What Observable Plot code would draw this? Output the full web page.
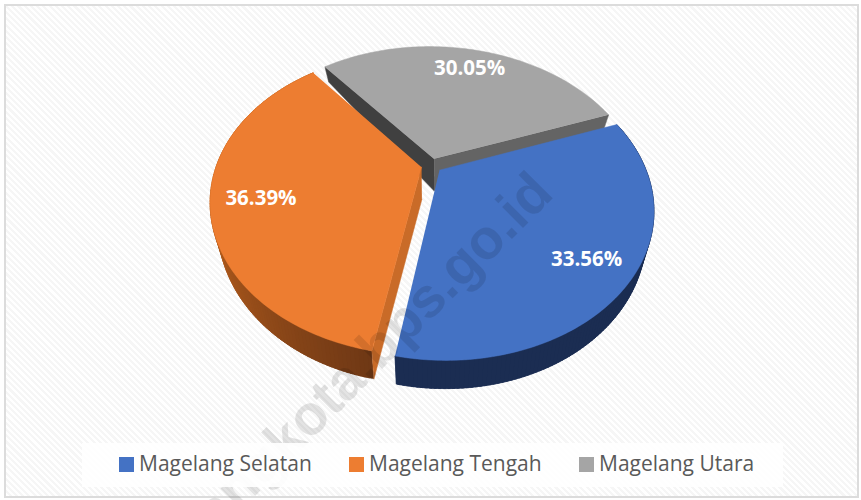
<!DOCTYPE html>
<html><head><meta charset="utf-8">
<script src="https://cdn.jsdelivr.net/npm/d3@7"></script>
<script src="https://cdn.jsdelivr.net/npm/@observablehq/plot@0.6"></script>
<style>
html,body{margin:0;padding:0;background:#fff;overflow:hidden}
#wrap{position:relative;width:861px;height:500px;overflow:hidden}
#frame{position:absolute;left:4px;top:4px;width:851px;height:490px;border:2px solid #dcdcdc;
background:repeating-linear-gradient(45deg,#ffffff 0,#ffffff 2.2px,#f6f6f6 2.2px,#f6f6f6 4.4px)}
#chart{position:absolute;left:0;top:0}
#chart svg{background:transparent;display:block}
#legend{position:absolute;left:82px;top:443px;width:701px;height:44px;background:rgba(255,255,255,.9);
font-family:"Open Sans",sans-serif;font-size:21px;color:#595959;}
.it{position:absolute;top:0;height:44px;display:flex;align-items:center;white-space:nowrap}
.sw{display:inline-block;width:15px;height:15px;margin-right:5px;margin-top:-2px}
.tx{position:relative;top:-2px}
</style></head><body>
<div id="wrap"><div id="frame"></div><div id="chart"></div><div id="legend"></div></div>
<script>
const names = ["Magelang Selatan","Magelang Tengah","Magelang Utara"];
const values = [33.56,36.39,30.05];
const topColors = ["#4472c4","#ed7d31","#a5a5a5"];
const labelRadius = [0.8,0.77,0.84];
const legendLeft = [37,267,497];
const watermark = "magelangkota.bps.go.id";

// perspective of the tilted pie
const cam = {cx:431,cy:165,rx:205,ry:142,k:0.24,skew:-4,explode:0.05,start:70,shrink:0.965,apexDepth:32};
const rad = d => d*Math.PI/180;
const rimDepth = z => 21 - 7*z;
function project(x,z,depth){
  const w = 1+cam.k*z;
  let sx = cam.cx+cam.rx*x/w+cam.skew*z, sy = cam.cy-cam.ry*z/w;
  if(depth!==undefined){ sx = cam.cx+(sx-cam.cx)*cam.shrink; sy += depth; }
  return [sx,sy];
}
const total = d3.sum(values);
let acc = cam.start;
const slices = names.map((n,i)=>{
  const a0=acc, a1=acc+values[i]/total*360; acc=a1;
  const mid=(a0+a1)/2;
  return {i,n,a0,a1,mid,ox:cam.explode*Math.sin(rad(mid)),oz:cam.explode*Math.cos(rad(mid))};
});
const rimPt=(s,a,bottom)=>{
  const x=s.ox+Math.sin(rad(a)), z=s.oz+Math.cos(rad(a));
  return project(x,z,bottom?rimDepth(z):undefined);
};
const apexPt=(s,bottom)=>project(s.ox,s.oz,bottom?cam.apexDepth:undefined);

const pts=[]; let faceId=0;
function face(list,color){ faceId++; for(const p of list) pts.push({id:faceId,x:p[0],y:p[1],color}); }
const [blue,orange,gray]=slices;

function rimFace(s,colorAt){
  const step=1;
  for(let a=s.a0;a<s.a1;a+=step){
    const b=Math.min(a+step+1.5,s.a1);
    face([rimPt(s,a),rimPt(s,b),rimPt(s,b,true),rimPt(s,a,true)],colorAt((a-s.a0)/(s.a1-s.a0)));
  }
}
function topFace(s){
  const l=[apexPt(s)];
  for(let a=s.a0;a<=s.a1;a+=1) l.push(rimPt(s,a));
  l.push(rimPt(s,s.a1));
  face(l,topColors[s.i]);
}
function radialFace(s,a,color){ face([apexPt(s),rimPt(s,a),rimPt(s,a,true),apexPt(s,true)],color); }

// gray slice, back
radialFace(gray,gray.a0,"#404040");
radialFace(gray,gray.a1,"#646464");
topFace(gray);
// orange slice
const orangeShade=d3.interpolateRgb("#6f3815","#c5661f");
rimFace(orange,t=>orangeShade(Math.min(1,t/0.55)));
radialFace(orange,orange.a0,"#c96b28");
topFace(orange);
// blue slice
rimFace(blue,()=>"#1b2d52");
topFace(blue);

const labels=slices.map(s=>{
  const r=labelRadius[s.i];
  const [x,y]=project(s.ox+r*Math.sin(rad(s.mid)),s.oz+r*Math.cos(rad(s.mid)));
  return {x,y,t:values[s.i].toFixed(2)+"%"};
});

const plot=Plot.plot({
  width:861,height:500,margin:0,
  x:{domain:[0,861],range:[0,861],axis:null},
  y:{domain:[0,500],range:[0,500],axis:null},
  color:{type:"identity"},
  style:{background:"transparent"},
  marks:[
    Plot.line(pts,{x:"x",y:"y",z:"id",fill:"color",stroke:"color",strokeWidth:0.5,curve:"linear"}),
    Plot.text([watermark],{x:[555],y:[195],text:d=>d,rotate:-45,textAnchor:"end",lineAnchor:"bottom",fontSize:56,fontWeight:"bold",
      fontFamily:"Liberation Sans",fill:"#000",fillOpacity:0.11}),
    Plot.text(labels,{x:"x",y:"y",dy:4,text:"t",fill:"#fff",fontSize:20.5,fontWeight:"bold",fontFamily:"Open Sans"})
  ]
});
document.getElementById("chart").append(plot);
const lg=document.getElementById("legend");
names.forEach((n,i)=>{
  const d=document.createElement("div");d.className="it";d.style.left=legendLeft[i]+"px";
  const sw=document.createElement("span");sw.className="sw";sw.style.background=topColors[i];
  const tx=document.createElement("span");tx.className="tx";tx.textContent=n;
  d.append(sw,tx);lg.append(d);
});
</script></body></html>
